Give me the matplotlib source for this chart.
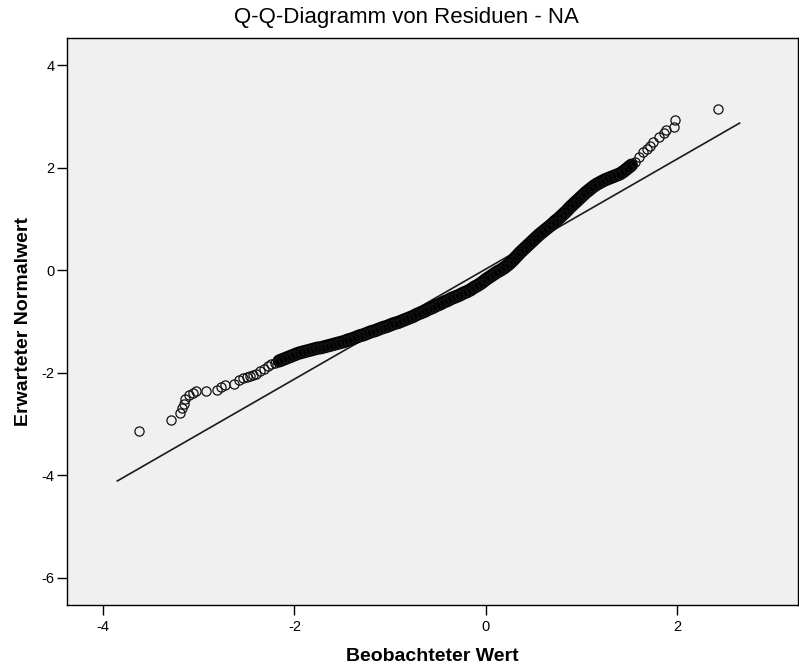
import matplotlib
matplotlib.use("Agg")
import matplotlib.pyplot as plt

plt.rcParams['font.family'] = ['Liberation Sans', 'DejaVu Sans']

# Observed residual values (x) and their expected normal values (y)
observed = [
    -3.62, -3.29, -3.20, -3.17, -3.15, -3.14, -3.10, -3.06, -3.03, -2.92,
    -2.81, -2.77, -2.73, -2.63, -2.58, -2.54, -2.50,
    -2.46, -2.43, -2.40, -2.36, -2.32, -2.28, -2.24, -2.20, -2.16, -2.12,
    -2.08, -2.04, -2.00, -1.96, -1.92, -1.88, -1.84, -1.80, -1.76, -1.72,
    -1.68, -1.64, -1.60, -1.56, -1.52, -1.48, -1.44, -1.40, -1.36, -1.32,
    -1.28, -1.24, -1.20, -1.16, -1.12, -1.08, -1.04, -1.00, -0.96, -0.92,
    -0.88, -0.84, -0.80, -0.76, -0.72, -0.68, -0.64, -0.60, -0.56, -0.52,
    -0.48, -0.44, -0.40, -0.36, -0.32, -0.28, -0.24, -0.20, -0.16, -0.12,
    -0.08, -0.04, 0.00, 0.04, 0.08, 0.12, 0.16, 0.20, 0.24, 0.28,
    0.32, 0.36, 0.40, 0.44, 0.48, 0.52, 0.56, 0.60, 0.64, 0.68,
    0.72, 0.76, 0.80, 0.84, 0.88, 0.92, 0.96, 1.00, 1.04, 1.08,
    1.12, 1.16, 1.20, 1.24, 1.28, 1.32, 1.36, 1.40, 1.44, 1.48,
    1.52, 1.56, 1.60, 1.64, 1.68, 1.71,
    1.75, 1.81, 1.86, 1.88, 1.96, 1.98, 2.42,
]
expected = [
    -3.14, -2.92, -2.79, -2.69, -2.60, -2.52, -2.44, -2.39, -2.36, -2.36,
    -2.33, -2.28, -2.24, -2.21, -2.14, -2.11, -2.08,
    -2.06, -2.04, -2.02, -1.97, -1.92, -1.87, -1.83, -1.80, -1.77, -1.74,
    -1.71, -1.68, -1.65, -1.62, -1.60, -1.58, -1.56, -1.54, -1.52, -1.51,
    -1.49, -1.47, -1.45, -1.43, -1.41, -1.39, -1.36, -1.34, -1.31, -1.28,
    -1.26, -1.23, -1.20, -1.18, -1.15, -1.12, -1.10, -1.07, -1.04, -1.02,
    -0.99, -0.96, -0.93, -0.90, -0.86, -0.83, -0.80, -0.76, -0.73, -0.69,
    -0.66, -0.62, -0.59, -0.55, -0.52, -0.49, -0.45, -0.42, -0.38, -0.33,
    -0.29, -0.24, -0.18, -0.13, -0.08, -0.03, 0.01, 0.06, 0.12, 0.19,
    0.27, 0.35, 0.42, 0.49, 0.56, 0.63, 0.70, 0.76, 0.82, 0.88,
    0.95, 1.01, 1.08, 1.15, 1.23, 1.30, 1.37, 1.44, 1.51, 1.57,
    1.63, 1.68, 1.72, 1.76, 1.79, 1.82, 1.85, 1.88, 1.93, 1.99,
    2.05, 2.12, 2.20, 2.30, 2.37, 2.43,
    2.50, 2.59, 2.67, 2.73, 2.79, 2.94, 3.14,
]

# Range of observed values where the cases overlap into a solid band
dense_from, dense_to = -2.16, 1.54

# Reference line end points
ref_x = [-3.85, 2.65]
ref_y = [-4.11, 2.87]

x_ticks = [-4, -2, 0, 2]
y_ticks = [-6, -4, -2, 0, 2, 4]

fig = plt.figure(figsize=(7.99, 6.68), dpi=100)
fig.patch.set_facecolor('white')
ax = fig.add_axes([67 / 799, 63 / 668, 731 / 799, 567 / 668])
ax.set_facecolor('#F0F0F0')

ax.plot(ref_x, ref_y, color='#1a1a1a', linewidth=1.2, zorder=2)

band = [(x, y) for x, y in zip(observed, expected) if dense_from <= x <= dense_to]
ax.plot([p[0] for p in band], [p[1] for p in band], color='black',
        linewidth=9.5, solid_capstyle='round', solid_joinstyle='round', zorder=3)
ax.plot(observed, expected, linestyle='none', marker='o', markersize=6.6,
        markerfacecolor='none', markeredgecolor='#111111',
        markeredgewidth=0.9, zorder=4)

ax.set_xlim(-4.376, 3.26)
ax.set_ylim(-6.53, 4.53)
ax.set_xticks(x_ticks)
ax.set_yticks(y_ticks)
ax.set_xticklabels([str(t) for t in x_ticks])
ax.set_yticklabels([str(t) for t in y_ticks])
ax.tick_params(direction='out', length=7, width=1, colors='black',
               labelsize=10.5)
ax.tick_params(axis='x', pad=4)
ax.tick_params(axis='y', pad=2)

for spine in ax.spines.values():
    spine.set_color('black')
    spine.set_linewidth(1.0)

ax.set_xlabel('Beobachteter Wert', fontsize=14, fontweight='bold', labelpad=10)
ax.set_ylabel('Erwarteter Normalwert', fontsize=14, fontweight='bold', labelpad=6.5)
fig.text(0.509, 0.990, 'Q-Q-Diagramm von Residuen - NA', ha='center', va='top',
         fontsize=16)

fig.savefig('out.png', dpi=100, facecolor='white')
